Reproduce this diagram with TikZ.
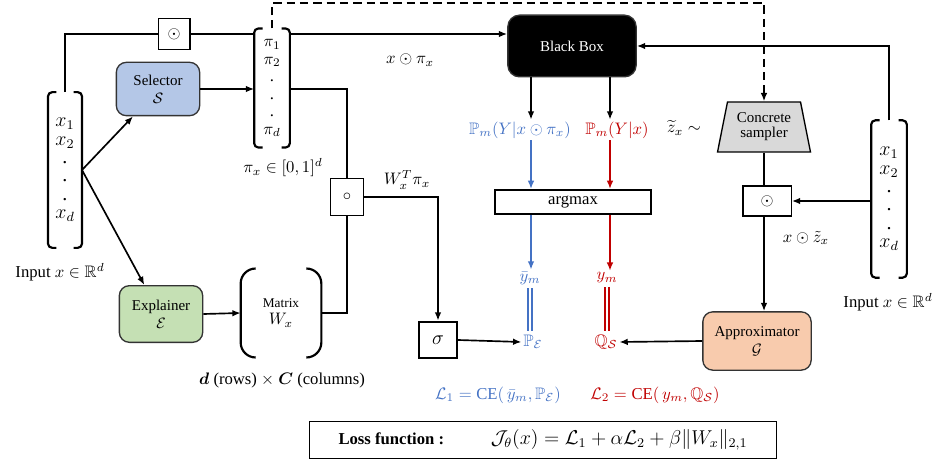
\documentclass[tikz,border=0pt]{standalone}
\usepackage{amsmath,amssymb}
\usepackage{fontspec}
\setmainfont{Liberation Serif}
\usetikzlibrary{positioning,arrows.meta,calc,shapes.geometric}

\definecolor{selblue}{HTML}{B4C7E7}
\definecolor{explgreen}{HTML}{C5E0B4}
\definecolor{apprpeach}{HTML}{F8CBAD}
\definecolor{concgray}{HTML}{D9D9D9}
\definecolor{lossblue}{HTML}{4472C4}
\definecolor{lossred}{HTML}{C00000}

% square brackets round a vector node
\newcommand{\vecbrackets}[1]{%
  \draw[brk] ([xshift=5pt]#1.north west) -- (#1.north west) -- (#1.south west) -- ([xshift=5pt]#1.south west);
  \draw[brk] ([xshift=-5pt]#1.north east) -- (#1.north east) -- (#1.south east) -- ([xshift=-5pt]#1.south east);}

\begin{document}
\begin{tikzpicture}[x=0.6pt, y=-0.6pt,
  box/.style={draw=black!80, rounded corners=6pt, line width=0.8pt, align=center, font=\small, inner sep=2pt},
  sq/.style={draw, line width=0.8pt, inner sep=0pt},
  vec/.style={align=center, inner sep=0pt},
  brk/.style={line width=1.3pt, rounded corners=2.5pt},
  arr/.style={-{Latex[length=5pt,width=4pt]}, line width=1pt},
  ln/.style={line width=1pt},
  lbl/.style={inner sep=1pt},
]
\useasboundingbox (0,0) rectangle (938,460);

% inputs and vectors
\node[vec, minimum width=20pt, minimum height=93pt, font=\large] (xin) at (65,170)
  {$x_1$\\[-3pt]$x_2$\\[-3pt].\\[-3pt].\\[-3pt].\\[-3pt]$x_d$};
\node[vec, minimum width=21pt, minimum height=71pt] (piv) at (272,88)
  {$\pi_1$\\[-1.5pt]$\pi_2$\\[-1.5pt].\\[-1.5pt].\\[-1.5pt].\\[-1.5pt]$\pi_d$};
\node[vec, minimum width=21pt, minimum height=94pt, font=\large] (xin2) at (889,199)
  {$x_1$\\[-3pt]$x_2$\\[-3pt].\\[-3pt].\\[-3pt].\\[-3pt]$x_d$};
\vecbrackets{xin}
\vecbrackets{piv}
\vecbrackets{xin2}
\node[lbl] (inpL) at (60,272) {Input $x\in\mathbb{R}^d$};
\node[lbl] (inpR) at (888,302) {Input $x\in\mathbb{R}^d$};
\node[lbl] (pirange) at (283,168) {$\pi_x\in[0,1]^d$};

% networks
\node[box, fill=selblue, minimum width=50pt, minimum height=32pt] (sel) at (158,89) {Selector\\$\mathcal{S}$};
\node[box, fill=explgreen, minimum width=50pt, minimum height=34pt] (expl) at (161,314) {Explainer\\$\mathcal{E}$};
\node[box, fill=apprpeach, minimum width=65pt, minimum height=35pt] (appr) at (757,341) {Approximator\\$\mathcal{G}$};
\node[box, fill=black, text=white, rounded corners=7pt, minimum width=77pt, minimum height=37pt] (bbox) at (572,46) {Black\ Box};
\node[draw, line width=0.8pt, fill=concgray, trapezium, trapezium angle=76, trapezium stretches=true,
  minimum width=56pt, minimum height=30pt, align=center, font=\small, inner sep=1pt] (conc) at (764,127) {Concrete\\[-2pt]sampler};

% operators
\node[sq, minimum width=19pt, minimum height=18.6pt] (odotA) at (174,34) {$\odot$};
\node[sq, minimum width=29pt, minimum height=18pt] (odotB) at (767,201) {$\odot$};
\node[sq, minimum width=20pt, minimum height=22pt] (circ) at (347,197) {$\circ$};
\node[sq, line width=1.2pt, minimum width=23pt, minimum height=22pt, font=\large] (sig) at (438,340) {$\sigma$};
\node[sq, line width=1.2pt, minimum width=94pt, minimum height=14.4pt] (amax) at (573,202) {argmax};

% matrix
\node[vec, minimum width=48pt, minimum height=53pt, font=\footnotesize] (mat) at (281,313) {Matrix\\[1pt]{\normalsize $W_x$}};
\draw[brk, rounded corners=9pt] ([xshift=9pt]mat.north west) -- (mat.north west) -- (mat.south west) -- ([xshift=9pt]mat.south west);
\draw[brk, rounded corners=9pt] ([xshift=-9pt]mat.north east) -- (mat.north east) -- (mat.south east) -- ([xshift=-9pt]mat.south east);
\node[lbl] (matdim) at (282,380) {$\boldsymbol{d}$ (rows) $\times$ $\boldsymbol{C}$ (columns)};

% outputs
\node[lbl, text=lossblue] (pbl) at (520,130) {$\mathbb{P}_m(Y|x\odot\pi_x)$};
\node[lbl, text=lossred] (prd) at (617,130) {$\mathbb{P}_m(Y|x)$};
\node[lbl, text=lossblue] (ybar) at (530,278) {$\bar{y}_m$};
\node[lbl, text=lossred] (ym) at (607,278) {$y_m$};
\node[lbl, text=lossblue] (peps) at (533,342) {$\mathbb{P}_{\mathcal{E}}$};
\node[lbl, text=lossred] (qs) at (606,342) {$\mathbb{Q}_{\mathcal{S}}$};
\node[lbl, text=lossblue] (Lone) at (498,395) {$\mathcal{L}_1=\mathrm{CE}(\,\bar{y}_m,\mathbb{P}_{\mathcal{E}})$};
\node[lbl, text=lossred] (Ltwo) at (655,395) {$\mathcal{L}_2=\mathrm{CE}(\,y_m,\mathbb{Q}_{\mathcal{S}})$};
\node[lbl] (xpi) at (410,60) {$x\odot\pi_x$};
\node[lbl] (wpi) at (407,180) {$W_x^T\pi_x$};
\node[lbl] (ztil) at (684,128) {$\widetilde{z}_x\sim$};
\node[lbl] (xz) at (806,238) {$x\odot\tilde{z}_x$};

\node[draw, line width=0.8pt, minimum width=280pt, minimum height=22pt] (loss) at (543,440)
  {\textbf{Loss function :}\hspace{28pt}{\large$\mathcal{J}_\theta(x)=\mathcal{L}_1+\alpha\mathcal{L}_2+\beta\|W_x\|_{2,1}$}};

\coordinate (colB) at (531,0);
\coordinate (colR) at (610,0);
\coordinate (dtop) at (0,3);

% connectors
\draw[ln] (xin.north) |- (odotA.west);
\draw[ln] (odotA.east) -- (odotA.east -| piv.west);
\draw[arr] (piv.east |- odotA) -- (bbox.west |- odotA);
\draw[arr] (xin.east) -- ([xshift=-15pt]sel.south);
\draw[arr] (xin.east) -- ([xshift=-10pt]expl.north);
\draw[arr] (sel.east) -- (sel.east -| piv.west);
\draw[ln] (piv.east |- sel.east) -| (circ.north);
\draw[arr] (circ.east) -| (sig.north);
\draw[arr] (expl.east) -- (mat.west);
\draw[ln] (mat.east) -| (circ.south);
\draw[arr] (sig.east) -- (peps.west);
\draw[arr] (appr.west) -- (qs.east);
\draw[arr] (bbox.south -| colB) -- (pbl.north -| colB);
\draw[arr] (bbox.south -| colR) -- (prd.north -| colR);
\draw[arr, lossblue] (pbl.south -| colB) -- (amax.north -| colB);
\draw[arr, lossred] (prd.south -| colR) -- (amax.north -| colR);
\draw[arr, lossblue] (amax.south -| colB) -- (ybar.north -| colB);
\draw[arr, lossred] (amax.south -| colR) -- (ym.north -| colR);
\draw[lossblue, double, double distance=1.6pt, line width=0.8pt] ([yshift=-1pt]ybar.south) -- ([yshift=1pt]peps.north -| ybar);
\draw[lossred, double, double distance=1.6pt, line width=0.8pt] ([yshift=-1pt]ym.south) -- ([yshift=1pt]qs.north -| ym);
\draw[arr, line width=1.3pt, dashed, dash pattern=on 5pt off 3pt] (piv.north) -- (piv.north |- dtop) -- (conc.north |- dtop) -- (conc.north);
\draw[ln] (conc.south) -- (odotB.north -| conc.south);
\draw[arr] (xin2.west |- odotB) -- (odotB.east);
\draw[arr] (odotB.south -| conc.south) -- (appr.north -| conc.south);
\draw[arr] (xin2.north) |- (bbox.east);
\end{tikzpicture}
\end{document}
